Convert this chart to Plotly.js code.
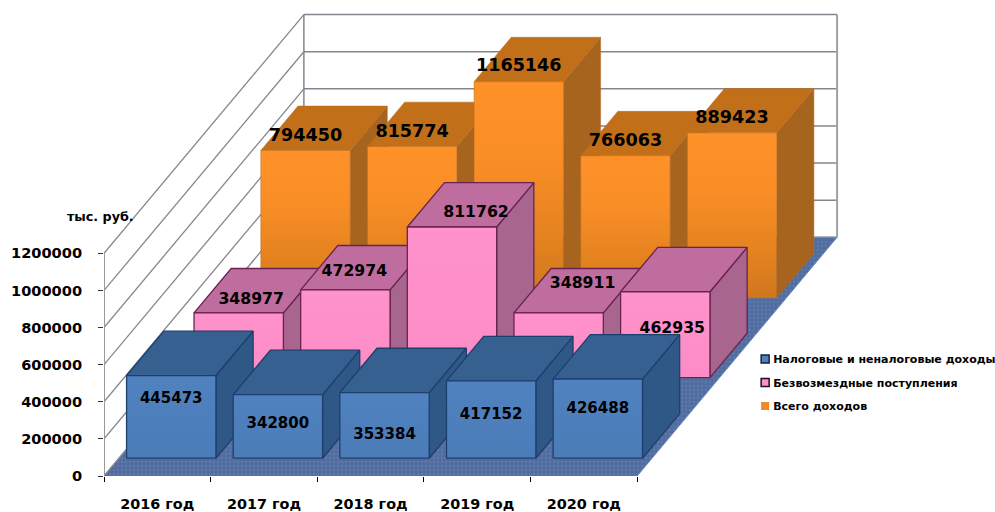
<!DOCTYPE html>
<html>
<head>
<meta charset="utf-8">
<script src="https://cdn.plot.ly/plotly-3.0.1.min.js"></script>
<style>html,body{margin:0;padding:0;background:#fff}#chart{width:995px;height:512px}</style>
</head>
<body>
<div id="chart"></div>
<script>
// ---- data ----
const categories = ['2016 год', '2017 год', '2018 год', '2019 год', '2020 год'];
const taxIncome  = [445473, 342800, 353384, 417152, 426488];
const grants     = [348977, 472974, 811762, 348911, 462935];
const totalIncome= [794450, 815774, 1165146, 766063, 889423];
const seriesNames = ['Налоговые и неналоговые доходы', 'Безвозмездные поступления', 'Всего доходов'];
const valueTicks = [0, 200000, 400000, 600000, 800000, 1000000, 1200000];

// ---- oblique projection geometry ----
const X0 = 103.5, Y0 = 476, CAT = 106.7, VAL = 222.7 / 1200000;
const DEPTH_DX = 200 / CAT, DEPTH_DY = 238.7 / VAL;
const P = (cat, depth, value) => [cat + depth * DEPTH_DX, value + depth * DEPTH_DY];
const BAR_L = 0.072, BAR_R = 0.91, BAR_DEPTH = 0.186;
const W = 995, H = 512;

const styles = [
  {vals: taxIncome, d0: 0.0745, font: 15, line: '#1d3f6e', lw: 1.3, top: '#36608f', side: '#2f5886',
   front: [[0, '#4b7cb8'], [1, '#5082bf']],
   dx: [0, 0, 0, 0, 0], dy: [-24, -30, -43, -34, -30]},
  {vals: grants, d0: 0.412, font: 15.7, line: '#6b2251', lw: 1.3, top: '#bf6c9f', side: '#a8668f',
   front: [[0, '#fd8cc6'], [1, '#ff92cb']],
   dx: [12.5, 9, 24, 24, 7], dy: [13, 18, 14, 29, -37]},
  {vals: totalIncome, d0: 0.746, font: 17.6, line: '#b86a1c', lw: 0.5, top: '#c26f1a', side: '#a6641f',
   front: [[0, '#cf771e'], [0.25, '#e2821f'], [0.65, '#fa8e26'], [1, '#ff9129']],
   dx: [0, 0, 0, 0, 0], dy: [14, 14, 15, 14, 14]}
];

const traces = [];
const poly = (pts, o) => {
  const c = pts.concat([pts[0]]);
  traces.push(Object.assign({
    x: c.map(p => p[0]), y: c.map(p => p[1]), type: 'scatter', mode: 'lines', fill: 'toself',
    hoverinfo: 'skip', showlegend: false, cliponaxis: false
  }, o));
};
const seg = (a, b, color, width) => traces.push({
  x: [a[0], b[0]], y: [a[1], b[1]], type: 'scatter', mode: 'lines',
  line: {color: color, width: width}, hoverinfo: 'skip', showlegend: false, cliponaxis: false
});

// floor
const floorTop = 6 * 200000;
poly([P(0, 0, 0), P(5, 0, 0), P(5, 1, 0), P(0, 1, 0)], {
  line: {color: '#6d88b8', width: 1},
  fillcolor: '#4f6a9f',
  fillpattern: {shape: '.', bgcolor: '#4f6b9f', fgcolor: '#5d78a8', size: 4, solidity: 0.4}
});
// walls: grid lines
valueTicks.forEach(v => {
  seg(P(0, 0, v), P(0, 1, v), '#85858f', 1.3);
  seg(P(0, 1, v), P(5, 1, v), '#85858f', 1.5);
});
seg(P(0, 0, 0), P(0, 0, floorTop), '#9a9a9e', 2);
seg(P(0, 1, 0), P(0, 1, floorTop), '#85858f', 1.5);
seg(P(5, 1, 0), P(5, 1, floorTop), '#a0a0a6', 2);

// bars, back row first, left to right
for (let s = 2; s >= 0; s--) {
  const st = styles[s];
  const d0 = st.d0, d1 = d0 + BAR_DEPTH;
  st.vals.forEach((v, i) => {
    const l = i + BAR_L, r = i + BAR_R;
    const ln = {color: st.line, width: st.lw};
    poly([P(r, d0, 0), P(r, d1, 0), P(r, d1, v), P(r, d0, v)], {line: ln, fillcolor: st.side});
    poly([P(l, d0, v), P(r, d0, v), P(r, d1, v), P(l, d1, v)], {line: ln, fillcolor: st.top});
    poly([P(l, d0, 0), P(r, d0, 0), P(r, d0, v), P(l, d0, v)], {
      line: ln, fillgradient: {type: 'vertical', colorscale: st.front}
    });
  });
}
// front edge of the floor
seg(P(0, 0, 0), P(5, 0, 0), '#5f6f8a', 1.5);

// value labels
for (let s = 2; s >= 0; s--) {
  const st = styles[s];
  const pts = st.vals.map((v, i) => {
    const p = P(i + (BAR_L + BAR_R) / 2, st.d0, v);
    return [p[0] + st.dx[i] / CAT, p[1] + st.dy[i] / VAL];
  });
  traces.push({
    x: pts.map(p => p[0]), y: pts.map(p => p[1]), text: st.vals.map(String),
    type: 'scatter', mode: 'text', textposition: 'middle center', cliponaxis: false,
    textfont: {family: 'DejaVu Sans', size: st.font, color: '#000', weight: 'bold'},
    hoverinfo: 'skip', showlegend: false
  });
}

// legend entries
const legendMarkers = [
  {color: '#4f81bd', line: '#16233a', w: 1.5},
  {color: '#ff8fc9', line: '#1c1020', w: 1.5},
  {color: '#ee8a2b', line: '#ee8a2b', w: 0}
];
seriesNames.forEach((n, i) => traces.push({
  x: [null], y: [null], type: 'scatter', mode: 'markers', name: n, legendgroup: 'g' + i,
  marker: {symbol: 'square', size: 8, color: legendMarkers[i].color,
           line: {color: legendMarkers[i].line, width: legendMarkers[i].w}}
}));

const layout = {
  width: W, height: H, autosize: false,
  paper_bgcolor: '#fff', plot_bgcolor: 'rgba(0,0,0,0)',
  margin: {l: X0, r: 0, t: 0, b: H - Y0, pad: 0, autoexpand: false},
  showlegend: true,
  legend: {
    x: (733 - X0) / (W - X0), xanchor: 'left', y: (Y0 - 344.5) / Y0, yanchor: 'top',
    bgcolor: 'rgba(0,0,0,0)', tracegroupgap: 4.5, itemclick: false, itemdoubleclick: false,
    font: {family: 'DejaVu Sans', size: 11, color: '#000', weight: 'bold'}
  },
  xaxis: {
    range: [0, (W - X0) / CAT], fixedrange: true, showgrid: false, zeroline: false, showline: false,
    tickmode: 'array', tickvals: categories.map((c, i) => i + 0.5), ticktext: categories,
    ticks: '', ticklabelstandoff: 18,
    tickfont: {family: 'DejaVu Sans', size: 14.4, color: '#000', weight: 'bold'},
    minor: {tickmode: 'array', tickvals: [0, 1, 2, 3, 4, 5], ticks: 'outside', ticklen: 5, tickwidth: 1, tickcolor: '#000', showgrid: false}
  },
  yaxis: {
    range: [0, Y0 / VAL], fixedrange: true, showgrid: false, zeroline: false, showline: false,
    tickmode: 'array', tickvals: valueTicks, ticktext: valueTicks.map(String),
    ticks: 'outside', ticklen: 5, tickwidth: 1, tickcolor: '#333', ticklabelstandoff: 13,
    tickfont: {family: 'DejaVu Sans', size: 14.6, color: '#000', weight: 'bold'}
  },
  annotations: [{
    text: 'тыс. руб.', xref: 'paper', yref: 'paper', x: (99.5 - X0) / (W - X0), y: (Y0 - 216) / Y0,
    showarrow: false, xanchor: 'center', yanchor: 'middle',
    font: {family: 'DejaVu Sans', size: 12.7, color: '#000', weight: 'bold'}
  }]
};
Plotly.newPlot('chart', traces, layout, {displayModeBar: false}).then(() => {
  // the reference keeps its legend swatches tight against the entry text
  document.querySelectorAll('#chart .legend .legendsymbols').forEach(g => g.setAttribute('transform', 'translate(12,0)'));
});
</script>
</body>
</html>
